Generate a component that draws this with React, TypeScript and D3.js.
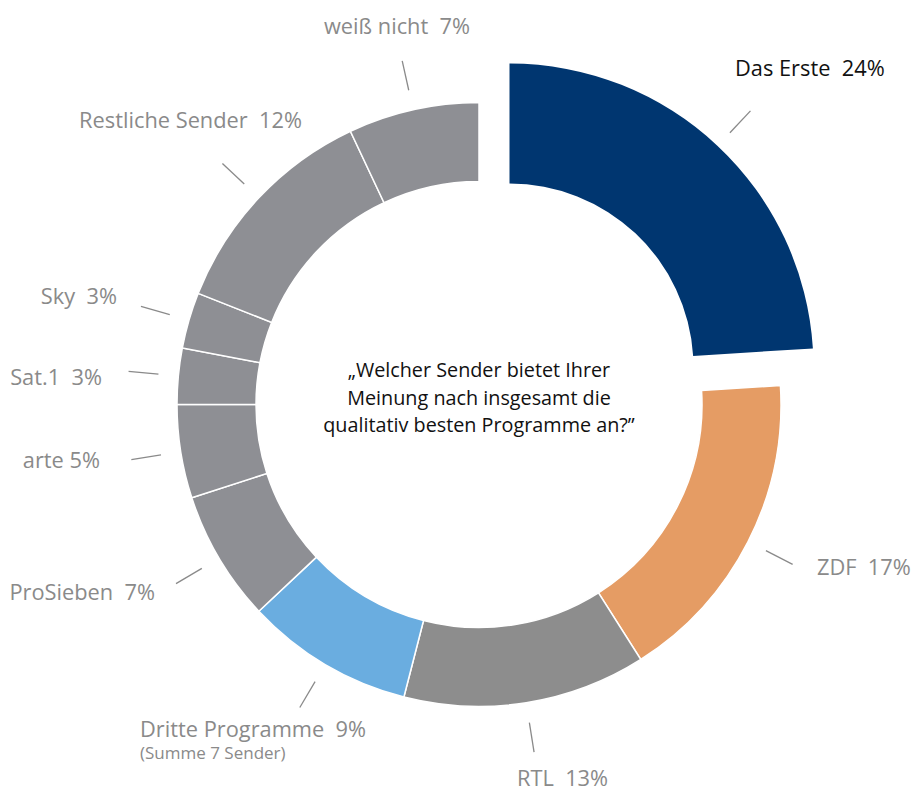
import React from 'react';
import * as d3 from 'd3';

// share of respondents per broadcaster, clockwise from 12 o'clock
const senders = [
  'Das Erste',
  'ZDF',
  'RTL',
  'Dritte Programme',
  'ProSieben',
  'arte',
  'Sat.1',
  'Sky',
  'Restliche Sender',
  'weiß nicht',
];
const shares = [24, 17, 13, 9, 7, 5, 3, 3, 12, 7];
const sliceColors = [
  '#003670',
  '#e59c64',
  '#8d8d8d',
  '#6aade0',
  '#8e8f94',
  '#8e8f94',
  '#8e8f94',
  '#8e8f94',
  '#8e8f94',
  '#8e8f94',
];
const questionLines = [
  '„Welcher Sender bietet Ihrer',
  'Meinung nach insgesamt die',
  'qualitativ besten Programme an?”',
];

// label placement (baseline anchor) for each slice
const labelLayout: { x: number; y: number; anchor: string }[] = [
  { x: 735, y: 76, anchor: 'start' },
  { x: 817, y: 575, anchor: 'start' },
  { x: 517, y: 786, anchor: 'start' },
  { x: 140, y: 737, anchor: 'start' },
  { x: 155, y: 600, anchor: 'end' },
  { x: 100, y: 468, anchor: 'end' },
  { x: 102, y: 385, anchor: 'end' },
  { x: 117, y: 304, anchor: 'end' },
  { x: 302, y: 128, anchor: 'end' },
  { x: 397, y: 34, anchor: 'middle' },
];

const width = 912;
const height = 791;
const cx = 479;
const cy = 404.5;
const innerR = 223;
const outerR = 302;
// highlighted slice is drawn thicker and pulled out
const hiInner = 184;
const hiOuter = 304;
const hiShift = { x: 30.5, y: -37 };
const leadFrom = 322;
const leadTo = 352;

const font = '"Open Sans", "Noto Sans", sans-serif';

const App: React.FC = () => {
  const pie = d3
    .pie<number>()
    .sort(null)
    .value(d => d)
    .startAngle(0)
    .endAngle(2 * Math.PI);
  const arcs = pie(shares);

  const color = d3.scaleOrdinal<string, string>().domain(senders).range(sliceColors);

  const ring = d3.arc<d3.PieArcDatum<number>>().innerRadius(innerR).outerRadius(outerR);
  const hiRing = d3.arc<d3.PieArcDatum<number>>().innerRadius(hiInner).outerRadius(hiOuter);

  return (
    <div style={{ position: 'absolute', left: 0, top: 0 }}>
      <svg width={width} height={height} style={{ display: 'block', background: '#fff' }}>
        <g transform={`translate(${cx},${cy})`}>
          {arcs.map((a, i) => {
            const hi = i === 0;
            const off = hi ? hiShift : { x: 0, y: 0 };
            const mid = (a.startAngle + a.endAngle) / 2;
            const sx = Math.sin(mid);
            const sy = -Math.cos(mid);
            return (
              <g key={senders[i]} transform={`translate(${off.x},${off.y})`}>
                <path
                  d={(hi ? hiRing(a) : ring(a)) || ''}
                  fill={color(senders[i])}
                  stroke="#fff"
                  strokeWidth={hi ? 0 : 1.5}
                />
                <line
                  x1={sx * leadFrom}
                  y1={sy * leadFrom}
                  x2={sx * leadTo}
                  y2={sy * leadTo}
                  stroke="#8a8a8a"
                  strokeWidth={1.3}
                />
              </g>
            );
          })}
        </g>

        {senders.map((s, i) => {
          const l = labelLayout[i];
          const sep = s === 'arte' ? ' ' : '  ';
          return (
            <text
              key={s}
              x={l.x}
              y={l.y}
              textAnchor={l.anchor}
              fontFamily={font}
              fontSize={21.8}
              fill={i === 0 ? '#111' : '#8a8a8a'}
              style={{ whiteSpace: 'pre' }}
            >
              {`${s}${sep}${shares[i]}%`}
            </text>
          );
        })}
        <text x={140} y={759} fontFamily={font} fontSize={17} fill="#8a8a8a">
          (Summe 7 Sender)
        </text>

        {questionLines.map((t, i) => (
          <text
            key={i}
            x={cx}
            y={377 + i * 27.5}
            textAnchor="middle"
            fontFamily={font}
            fontSize={19.8}
            fill="#111"
          >
            {t}
          </text>
        ))}
      </svg>
    </div>
  );
};

export default App;
